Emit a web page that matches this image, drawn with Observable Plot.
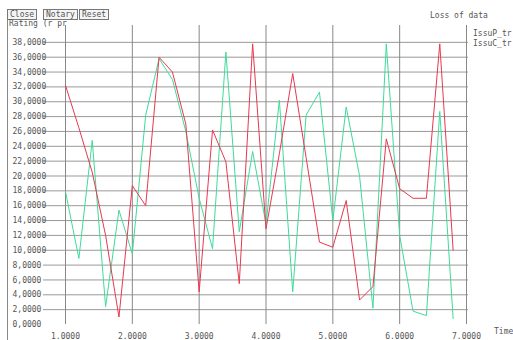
<!DOCTYPE html>
<html><head><meta charset="utf-8">
<script src="https://cdn.jsdelivr.net/npm/d3@7"></script>
<script src="https://cdn.jsdelivr.net/npm/@observablehq/plot@0.6"></script>
<style>
body{margin:0;background:#fff;}
#wrap{position:relative;width:513px;height:340px;overflow:hidden;font-family:"DejaVu Sans Mono",monospace;color:#555;}
#wrap svg{position:absolute;left:0;top:0;}
.lbl{position:absolute;font-size:8px;line-height:9px;white-space:nowrap;color:#555;}
.btn{position:absolute;top:9px;height:9px;border:1px solid #777;font-size:8px;line-height:9px;padding:0 2px;color:#555;background:#f4f4f4;}
</style></head><body><div id="wrap"></div>
<script>
const times = [1,1.2,1.4,1.6,1.8,2,2.2,2.4,2.6,2.8,3,3.2,3.4,3.6,3.8,4,4.2,4.4,4.6,4.8,5,5.2,5.4,5.6,5.8,6,6.2,6.4,6.6,6.8];
const issuP = [32.2,26.5,20.5,12,1.0,18.7,16,36,34,27,4.4,26.2,21.9,5.5,37.8,12.9,23,33.8,22.5,11.1,10.4,16.7,3.3,5.1,25,18.3,17,17,37.8,10];
const issuC = [17.9,8.9,24.8,2.4,15.4,9.5,28.2,35.8,33,26,17,10.2,36.7,12.5,23.3,13.5,30.2,4.4,28.2,31.3,14,29.3,20,2.2,37.8,12,1.8,1.2,28.7,0.8];
const seriesNames = ["IssuP_tr","IssuC_tr"];
const seriesColors = ["#e8384f","#3ddc9a"];
const yTicks = [0,2,4,6,8,10,12,14,16,18,20,22,24,26,28,30,32,34,36,38];
const xTicks = [1,2,3,4,5,6,7];
const buttons = ["Close","Notary","Reset"];
const topTitle = "Loss of data";
const yTitle = "Rating (r pr";
const xTitle = "Time";

const pData = times.map((t,i)=>({t, v: issuP[i]}));
const cData = times.map((t,i)=>({t, v: issuC[i]}));
const f4 = d3.format(".4f");

const chart = Plot.plot({
  width: 513, height: 340,
  marginLeft: 65, marginRight: 47, marginTop: 27, marginBottom: 16,
  x: {domain: [1,7], axis: null},
  y: {domain: [0,40], axis: null},
  marks: [
    Plot.ruleY(yTicks.filter(d => d > 0), {stroke: "#999", strokeWidth: 1, insetLeft: -22, insetRight: -2}),
    Plot.ruleX(xTicks, {stroke: "#888", strokeWidth: 1, insetTop: -2}),
    Plot.ruleX([1], {dx: -58, stroke: "#888", insetTop: -7, insetBottom: -16}),
    Plot.line(cData, {x: "t", y: "v", stroke: seriesColors[1], strokeWidth: 1}),
    Plot.line(pData, {x: "t", y: "v", stroke: seriesColors[0], strokeWidth: 1}),
    Plot.text(yTicks, {x: 1, y: d => d, text: d => f4(d).replace(".", ","), textAnchor: "start", dx: -53, fontFamily: "DejaVu Sans Mono", fontSize: 8, fill: "#555"}),
    Plot.text(xTicks, {x: d => d, y: 0, dy: 12, text: d => f4(d), fontFamily: "DejaVu Sans Mono", fontSize: 8, fill: "#555"})
  ]
});
const wrap = document.getElementById("wrap");
wrap.appendChild(chart);

const lefts = [7, 43, 79];
buttons.forEach((b,i) => {
  const el = document.createElement("div");
  el.className = "btn"; el.style.left = lefts[i] + "px"; el.textContent = b;
  wrap.appendChild(el);
});
function addLabel(text, left, top){
  const el = document.createElement("div");
  el.className = "lbl"; el.style.left = left + "px"; el.style.top = top + "px"; el.textContent = text;
  wrap.appendChild(el);
}
addLabel(yTitle, 9, 19);
addLabel(topTitle, 430, 11);
addLabel(seriesNames[0], 473, 29);
addLabel(seriesNames[1], 473, 39);
addLabel(xTitle, 494, 327);
</script>
</body></html>
